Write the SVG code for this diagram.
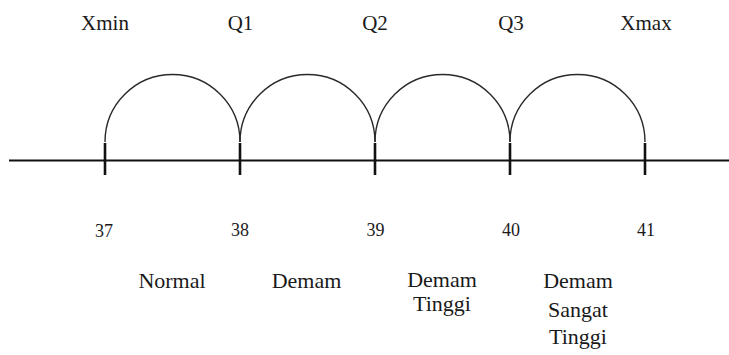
<svg xmlns="http://www.w3.org/2000/svg" width="729" height="355" viewBox="0 0 729 355">
<style>
.t{font-family:"Liberation Serif","Times New Roman",serif;fill:#1a1a1a;text-anchor:middle}
.top{font-size:21px}
.num{font-size:18px}
.cat{font-size:22px}
.arc{fill:none;stroke:#2a2a2a;stroke-width:1.4}
.tick{stroke:#111;stroke-width:2.6}
.axis{stroke:#111;stroke-width:2.2}
</style>
<rect width="729" height="355" fill="#fff"/>
<g id="connectors">
<line class="axis" x1="9" y1="160.5" x2="729" y2="160.5"/>
<path class="arc" d="M105 142 A67.5 67.5 0 0 1 240 142"/>
<path class="arc" d="M240 142 A67.5 67.5 0 0 1 375 142"/>
<path class="arc" d="M375 142 A67.5 67.5 0 0 1 510 142"/>
<path class="arc" d="M510 142 A67.5 67.5 0 0 1 645 142"/>
</g>
<g id="xmin"><line class="tick" x1="105" y1="143" x2="105" y2="175"/><text class="t top" x="105" y="30">Xmin</text><text class="t num" x="104" y="237">37</text></g>
<g id="q1"><line class="tick" x1="240" y1="143" x2="240" y2="175"/><text class="t top" x="240.5" y="30">Q1</text><text class="t num" x="240" y="236">38</text></g>
<g id="q2"><line class="tick" x1="375" y1="143" x2="375" y2="175"/><text class="t top" x="375" y="30">Q2</text><text class="t num" x="375.5" y="236">39</text></g>
<g id="q3"><line class="tick" x1="510" y1="143" x2="510" y2="175"/><text class="t top" x="511" y="30">Q3</text><text class="t num" x="511" y="236">40</text></g>
<g id="xmax"><line class="tick" x1="645" y1="143" x2="645" y2="175"/><text class="t top" x="646" y="30">Xmax</text><text class="t num" x="646" y="236">41</text></g>
<g id="normal"><text class="t cat" x="172" y="288">Normal</text></g>
<g id="demam"><text class="t cat" x="306.5" y="288">Demam</text></g>
<g id="demam-tinggi"><text class="t cat" x="442" y="287">Demam</text><text class="t cat" x="442" y="311">Tinggi</text></g>
<g id="demam-sangat-tinggi"><text class="t cat" x="578" y="288">Demam</text><text class="t cat" x="578" y="317">Sangat</text><text class="t cat" x="578" y="344">Tinggi</text></g>
</svg>
